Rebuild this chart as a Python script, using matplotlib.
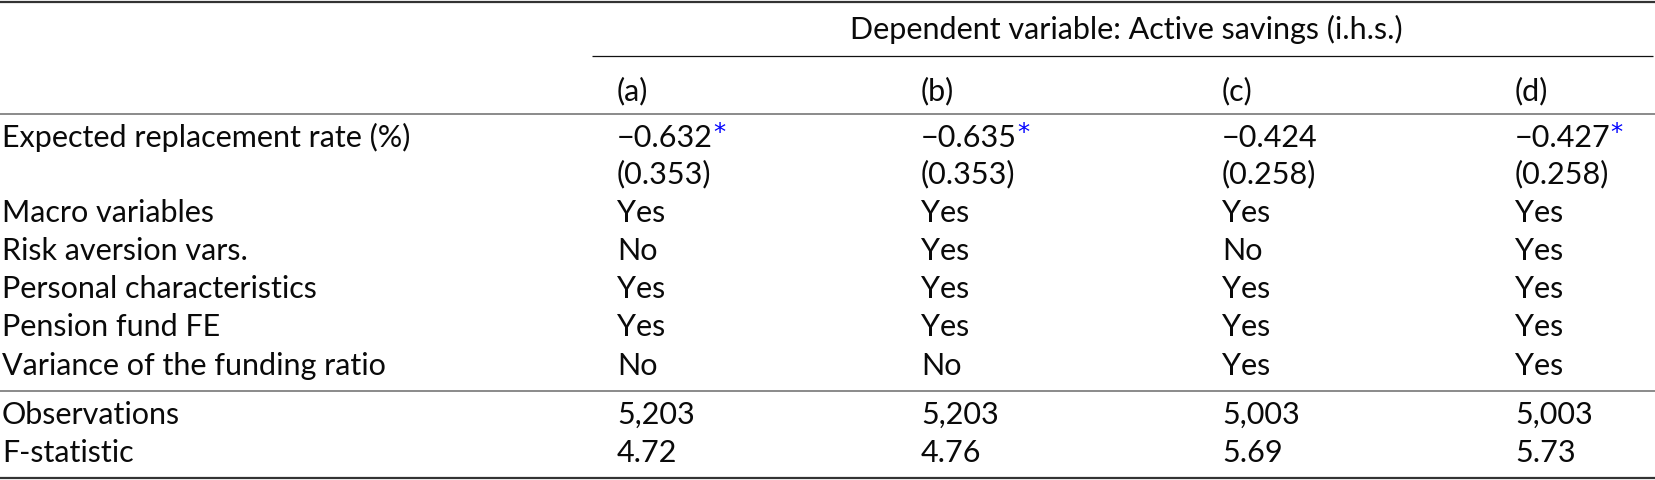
import matplotlib
matplotlib.use("Agg")
import matplotlib.pyplot as plt

plt.rcParams['font.family'] = ['Lato', 'DejaVu Sans']

# ---------------- data ----------------
header_text = "Dependent variable: Active savings (i.h.s.)"
col_labels = ["(a)", "(b)", "(c)", "(d)"]
coef_label = "Expected replacement rate (%)"
coefs = [-0.632, -0.635, -0.424, -0.427]
std_errs = [0.353, 0.353, 0.258, 0.258]
stars = ["*", "*", "", "*"]
control_labels = ["Macro variables", "Risk aversion vars.", "Personal characteristics",
                  "Pension fund FE", "Variance of the funding ratio"]
macro_vars = ["Yes", "Yes", "Yes", "Yes"]
risk_aversion = ["No", "Yes", "No", "Yes"]
personal_chars = ["Yes", "Yes", "Yes", "Yes"]
pension_fe = ["Yes", "Yes", "Yes", "Yes"]
funding_var = ["No", "No", "Yes", "Yes"]
stat_labels = ["Observations", "F-statistic"]
observations = [5203, 5203, 5003, 5003]
f_stats = [4.72, 4.76, 5.69, 5.73]

# ---------------- layout ----------------
W, H = 1655, 480
fig = plt.figure(figsize=(W / 100, H / 100), dpi=100)
ax = fig.add_axes([0, 0, 1, 1])
ax.set_xlim(0, W)
ax.set_ylim(H, 0)
ax.axis("off")

fs = 22.0
label_x = 2
col_x = [617, 921, 1222, 1515]
text_color = "#0a0a0a"

def put(x, y, s, **kw):
    return ax.text(x, y, s, fontsize=fs, color=text_color, va="baseline", ha="left", **kw)

def fmt_num(v, nd=3):
    s = f"{abs(v):.{nd}f}"
    return ("\u2212" + s) if v < 0 else s

# rules
ax.plot([0, W], [1.5, 1.5], color="#333333", lw=1.6, solid_capstyle="butt")
ax.plot([592, W - 2], [56, 56], color="#111111", lw=0.9, solid_capstyle="butt")
ax.plot([0, W], [114, 114], color="#777777", lw=1.2, solid_capstyle="butt")
ax.plot([0, W], [391, 391], color="#777777", lw=1.2, solid_capstyle="butt")
ax.plot([0, W], [478, 478], color="#333333", lw=1.6, solid_capstyle="butt")

# header
ax.text(1126, 39, header_text, fontsize=fs, color=text_color,
        va="baseline", ha="center")
for x, lab in zip(col_x, col_labels):
    put(x, 100, lab)

# coefficient row
put(label_x, 147, coef_label)
for x, c, st in zip(col_x, coefs, stars):
    t = put(x, 147, fmt_num(c))
    if st:
        ax.annotate(st, xy=(1, 1), xycoords=t, xytext=(0, 2), textcoords="offset points",
                    ha="left", va="top", fontsize=fs * 0.8, color="#0000ff",
                    family=["DejaVu Sans"])
for x, se in zip(col_x, std_errs):
    put(x, 183, "(" + fmt_num(se) + ")")

# controls
control_rows = [macro_vars, risk_aversion, personal_chars, pension_fe, funding_var]
ctrl_base = [222, 260, 298, 336, 375]
for y, lab, vals in zip(ctrl_base, control_labels, control_rows):
    put(label_x, y, lab)
    for x, v in zip(col_x, vals):
        put(x, y, v)

# stats
put(label_x, 424, stat_labels[0])
for x, v in zip(col_x, observations):
    put(x, 424, f"{v:,}")
put(label_x, 462, stat_labels[1])
for x, v in zip(col_x, f_stats):
    put(x, 462, f"{v:.2f}")

fig.savefig("out.png", dpi=100, facecolor="white")
